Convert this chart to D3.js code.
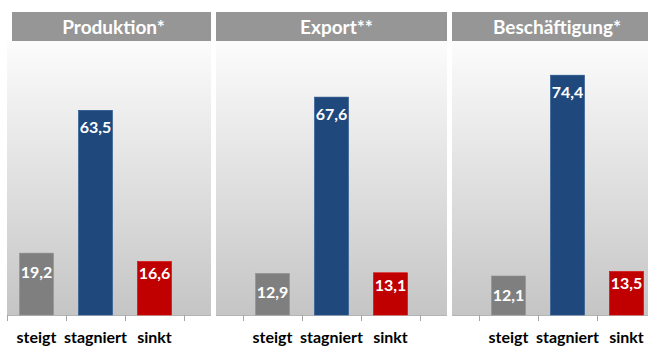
<!DOCTYPE html>
<html>
<head>
<meta charset="utf-8">
<script src="https://cdn.jsdelivr.net/npm/d3@7"></script>
<style>
  body { margin: 0; background: #fff; }
  svg { display: block; font-family: Lato, "Open Sans", sans-serif; }
</style>
</head>
<body>
<div id="chart"></div>
<script>
const width = 648;
const height = 347;

// data
const panels = ["Produktion*", "Export**", "Beschäftigung*"];
const categories = ["steigt", "stagniert", "sinkt"];
const produktion = [19.2, 63.5, 16.6];
const exportWerte = [12.9, 67.6, 13.1];
const beschaeftigung = [12.1, 74.4, 13.5];
const seriesValues = [produktion, exportWerte, beschaeftigung];
const barColors = ["#7f7f7f", "#1f497d", "#c00000"];

// one long axis: 3 categories per panel, one empty slot between panels
const slots = [];
panels.forEach((p, pi) => {
    categories.forEach((c, ci) => slots.push({ key: pi + "-" + c, panel: pi, cat: ci, label: c, value: seriesValues[pi][ci] }));
    if (pi < panels.length - 1) slots.push({ key: "gap" + pi, gap: true });
});

const plotTop = 41;
const plotBottom = 315;

const x = d3.scaleBand()
    .domain(slots.map(d => d.key))
    .range([7, 656])
    .paddingInner(0.424)
    .paddingOuter(0.212);

const y = d3.scaleLinear()
    .domain([0, 85])
    .range([plotBottom, plotTop]);

const fmt = d3.formatLocale({ decimal: ",", thousands: ".", grouping: [3], currency: ["", "€"] }).format(".1f");

const svg = d3.select("#chart").append("svg")
    .attr("width", width)
    .attr("height", height);

const grad = svg.append("defs").append("linearGradient")
    .attr("id", "bg")
    .attr("x1", 0).attr("y1", 0).attr("x2", 0).attr("y2", 1);
grad.append("stop").attr("offset", "0%").attr("stop-color", "#fcfcfc");
grad.append("stop").attr("offset", "100%").attr("stop-color", "#c5c5c5");

// panel extents: split in the middle of the empty slots
const step = x.step();
const gapKeys = slots.filter(d => d.gap).map(d => d.key);
const gapCenter = k => x(k) + x.bandwidth() / 2;
const panelBounds = panels.map((p, i) => {
    const left = i === 0 ? 7 : gapCenter(gapKeys[i - 1]) + 2.5;
    const right = i === panels.length - 1 ? width : gapCenter(gapKeys[i]) - 2.5;
    return { name: p, left, right, headLeft: i === 0 ? 12 : left };
});

const panelG = svg.append("g").selectAll("g")
    .data(panelBounds)
    .join("g");

panelG.append("rect")
    .attr("x", d => d.left)
    .attr("y", plotTop)
    .attr("width", d => d.right - d.left)
    .attr("height", plotBottom - plotTop)
    .attr("fill", "url(#bg)");

panelG.append("line")
    .attr("x1", d => d.left)
    .attr("x2", d => d.right)
    .attr("y1", plotBottom + 0.5)
    .attr("y2", plotBottom + 0.5)
    .attr("stroke", "#b4b4b4");

panelG.append("rect")
    .attr("x", d => d.headLeft)
    .attr("y", 12)
    .attr("width", d => d.right - d.headLeft)
    .attr("height", 29)
    .attr("fill", "#969696");

// titles sit a bit right of the header centre, as in the original
const titleShift = [2, 5, 7];
panelG.append("text")
    .attr("x", (d, i) => (d.headLeft + d.right) / 2 + titleShift[i])
    .attr("y", 34)
    .attr("text-anchor", "middle")
    .attr("fill", "#fff")
    .style("font-size", "19px")
    .style("font-weight", 700)
    .text(d => d.name);

// tick marks at band boundaries
const tickPos = slots.map(d => x(d.key) - (step - x.bandwidth()) / 2);
tickPos.push(tickPos[tickPos.length - 1] + step);
svg.append("g").selectAll("line")
    .data(tickPos)
    .join("line")
    .attr("x1", d => Math.round(d) + 0.5)
    .attr("x2", d => Math.round(d) + 0.5)
    .attr("y1", plotBottom)
    .attr("y2", plotBottom + 6)
    .attr("stroke", "#a6a6a6");

const bars = slots.filter(d => !d.gap);

svg.append("g").selectAll("rect")
    .data(bars)
    .join("rect")
    .attr("x", d => x(d.key))
    .attr("y", d => y(d.value))
    .attr("width", x.bandwidth())
    .attr("height", d => y(0) - y(d.value))
    .attr("fill", d => barColors[d.cat])
    .attr("stroke", d => d3.color(barColors[d.cat]).brighter(0.4))
    .attr("stroke-width", 0.6);

const labelOffset = [25, 23, 18];
svg.append("g").selectAll("text")
    .data(bars)
    .join("text")
    .attr("x", d => x(d.key) + x.bandwidth() / 2)
    .attr("y", d => y(d.value) + labelOffset[d.cat])
    .attr("text-anchor", "middle")
    .attr("fill", "#fff")
    .style("font-size", "16px")
    .style("font-weight", 700)
    .text(d => fmt(d.value));

svg.append("g").selectAll("text")
    .data(bars)
    .join("text")
    .attr("x", d => x(d.key) + x.bandwidth() / 2)
    .attr("y", 343)
    .attr("text-anchor", "middle")
    .attr("fill", "#000")
    .style("font-size", "16px")
    .style("font-weight", 700)
    .text(d => d.label);
</script>
</body>
</html>
